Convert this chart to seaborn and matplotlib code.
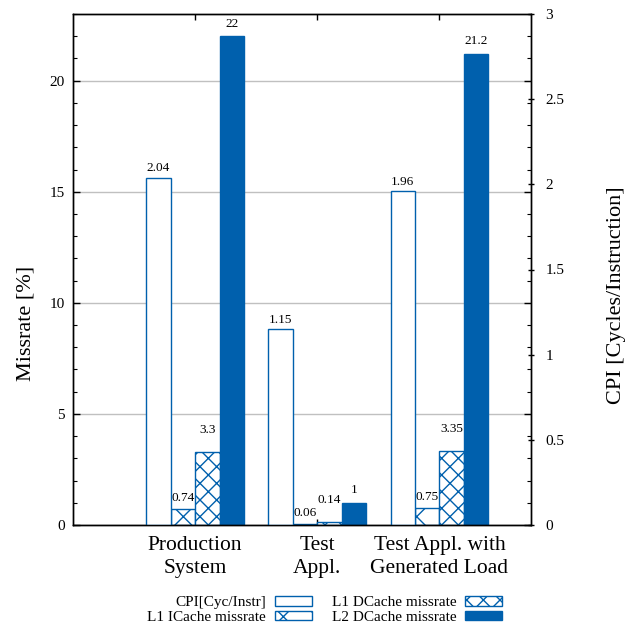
# -*- coding: utf-8 -*-
import pandas as pd
import matplotlib
matplotlib.use('Agg')
import matplotlib.pyplot as plt
from matplotlib.ticker import MultipleLocator, FuncFormatter
import seaborn as sns

# --- DATEN ---
systems = ['Production\nSystem', 'Test\nAppl.', 'Test Appl. with\nGenerated Load']
metrics = ['CPI[Cyc/Instr]', 'L1 ICache missrate', 'L1 DCache missrate', 'L2 DCache missrate']
cpi = [2.04, 1.15, 1.96]
l1i_missrate = [0.74, 0.06, 0.75]
l1d_missrate = [3.3, 0.14, 3.35]
l2d_missrate = [22, 1, 21.2]

# --- STIL ---
BLAU = '#0060ad'
farben = {metrics[0]: 'white', metrics[1]: 'white', metrics[2]: 'white', metrics[3]: BLAU}
muster = {metrics[0]: '', metrics[1]: 'x', metrics[2]: 'xx', metrics[3]: ''}
label_pad = {metrics[0]: 2.5, metrics[1]: 3.6, metrics[2]: 11.5, metrics[3]: 4.7}

sns.set_style('ticks')
plt.rcParams['font.family'] = ['Liberation Serif', 'DejaVu Serif']
plt.rcParams['text.color'] = 'black'
plt.rcParams['axes.labelcolor'] = 'black'
plt.rcParams['xtick.color'] = 'black'
plt.rcParams['ytick.color'] = 'black'
plt.rcParams['axes.edgecolor'] = 'black'
plt.rcParams['axes.linewidth'] = 1.0
plt.rcParams['hatch.color'] = BLAU
plt.rcParams['hatch.linewidth'] = 1.0

df_cpi = pd.DataFrame({'system': systems, 'metric': metrics[0], 'value': cpi})
df_miss = pd.concat(
    [pd.DataFrame({'system': systems, 'metric': m, 'value': v})
     for m, v in zip(metrics[1:], [l1i_missrate, l1d_missrate, l2d_missrate])],
    ignore_index=True)

fig = plt.figure(figsize=(6.43, 6.25), dpi=100)
ax = fig.add_axes([0.1135, 0.16, 0.7123, 0.8176])
ax2 = ax.twinx()

gemeinsam = dict(x='system', y='value', hue='metric', order=systems, hue_order=metrics,
                 palette=farben, width=0.8, dodge=True, saturation=1, errorbar=None,
                 edgecolor=BLAU, linewidth=1, legend=False)
sns.barplot(data=df_miss, ax=ax, **gemeinsam)
sns.barplot(data=df_cpi, ax=ax2, **gemeinsam)

# CPI liegt auf der rechten Achse, Missraten links (leere Container weglassen)
behaelter = [c for c in ax2.containers if len(c)] + [c for c in ax.containers if len(c)]
for cont, m in zip(behaelter, metrics):
    for bar in cont:
        bar.set_hatch(muster[m])
        bar.set_facecolor(farben[m])
    achse = ax2 if m == metrics[0] else ax
    achse.bar_label(cont, labels=[f'{v:g}' for v in cont.datavalues],
                    padding=label_pad[m], fontsize=9.5)

# Achsen
ax.set_xlim(-1.0, 2.75)
ax.set_ylim(0, 23)
ax2.set_ylim(0, 3)
ax.yaxis.set_major_locator(MultipleLocator(5))
ax.yaxis.set_minor_locator(MultipleLocator(1))
ax2.yaxis.set_major_locator(MultipleLocator(0.5))
ax2.yaxis.set_major_formatter(FuncFormatter(lambda v, p: f'{v:g}'))
ax.set_xticks(range(len(systems)))
ax.set_xticklabels(systems, fontsize=15.5, linespacing=1.3)
ax.set_xlabel('')
ax2.set_xlabel('')
ax.set_ylabel('Missrate [%]', fontsize=16)
ax2.set_ylabel('CPI [Cycles/Instruction]', fontsize=16)
ax.yaxis.set_label_coords(-0.081, 0.395)
ax2.yaxis.set_label_coords(1.166, 0.45)

ax.grid(axis='y', which='major', color='#c0c0c0', lw=1)
ax.grid(axis='x', visible=False)
ax.set_axisbelow(True)

ax.tick_params(axis='x', which='both', direction='in', top=True, bottom=True,
               length=4, width=1, pad=8)
ax.tick_params(axis='y', which='major', direction='in', left=True, right=True,
               labelright=False, length=5, width=1, labelsize=11, pad=6)
ax.tick_params(axis='y', which='minor', direction='in', left=True, right=True,
               length=3, width=0.8)
ax2.tick_params(axis='y', which='major', direction='inout', length=5, width=1,
                labelsize=11, pad=8)
ax2.tick_params(axis='y', which='minor', right=False)
for a in (ax, ax2):
    for s in a.spines.values():
        s.set_visible(True)
        s.set_color('black')
        s.set_linewidth(1)

# Legende unten
fig.legend(behaelter, metrics, loc='center', bbox_to_anchor=(0.505, 0.024), ncol=2,
           frameon=False, markerfirst=False, fontsize=11, handlelength=2.4,
           handleheight=0.6, columnspacing=1.3, handletextpad=0.6,
           labelspacing=0.1, borderpad=0)

fig.savefig('out.png', dpi=100)
